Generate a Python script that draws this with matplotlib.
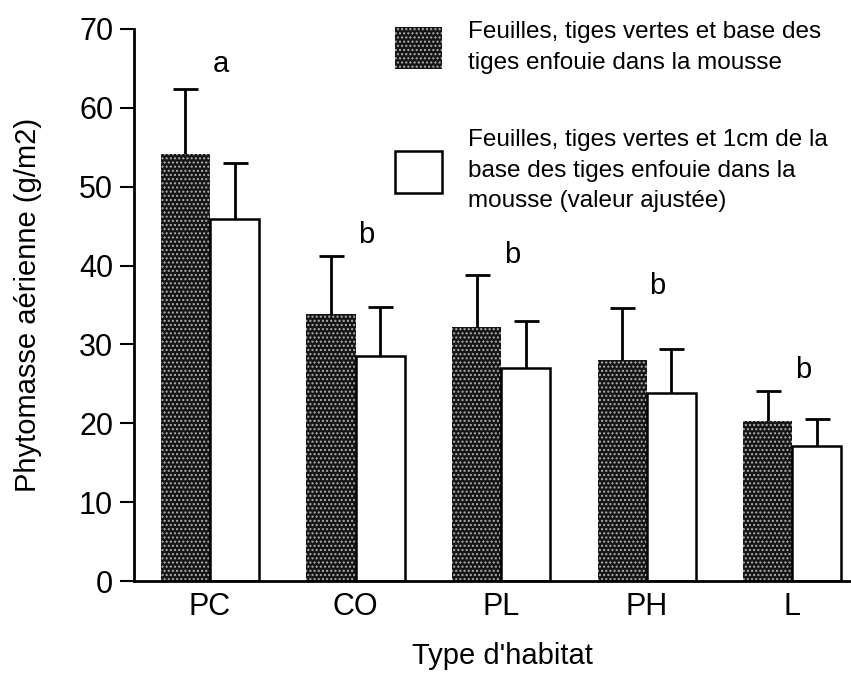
import matplotlib.pyplot as plt
import numpy as np

plt.rcParams['font.family'] = ['Liberation Sans', 'DejaVu Sans']

# Data
habitats = ["PC", "CO", "PL", "PH", "L"]
base_enfouie = [54.2, 33.8, 32.2, 28.0, 20.3]
base_enfouie_err = [8.2, 7.4, 6.6, 6.6, 3.8]
ajustee = [45.9, 28.5, 27.0, 23.8, 17.1]
ajustee_err = [7.1, 6.2, 6.0, 5.6, 3.4]
lettres = ["a", "b", "b", "b", "b"]
lettres_y = [64.5, 42.9, 40.3, 36.4, 25.7]

label_1 = "Feuilles, tiges vertes et base des\ntiges enfouie dans la mousse"
label_2 = ("Feuilles, tiges vertes et 1cm de la\n"
           "base des tiges enfouie dans la\nmousse (valeur ajustée)")

x = np.arange(len(habitats))
w = 0.337

fig = plt.figure(figsize=(8.51, 6.79), dpi=100)
ax = fig.add_axes([0.1575, 0.1443, 0.8425, 0.813])

ax.bar(x - w / 2, base_enfouie, w, facecolor='#151515', edgecolor='#b0b0b0',
       hatch='....', linewidth=0, label=label_1, zorder=2)
ax.bar(x + w / 2, ajustee, w, facecolor='white', edgecolor='black',
       linewidth=1.8, label=label_2, zorder=2)

for xs, vals, errs in [(x - w / 2, base_enfouie, base_enfouie_err),
                       (x + w / 2, ajustee, ajustee_err)]:
    eb = ax.errorbar(xs, vals, yerr=[np.zeros(len(errs)), errs], fmt='none',
                     ecolor='black', elinewidth=2, capsize=9, capthick=2, zorder=3)
    eb[1][0].set_visible(False)  # only the upper half of the bar

for xi, t, yt in zip(x, lettres, lettres_y):
    ax.text(xi + 0.076, yt, t, ha='center', va='baseline', fontsize=21)

ax.set_xlim(-0.522, 4.405)
ax.set_ylim(0, 70)
ax.set_yticks(range(0, 71, 10))
ax.set_xticks(x)
ax.set_xticklabels(habitats)
ax.tick_params(axis='y', length=10, width=1.5, pad=5, labelsize=22)
ax.tick_params(axis='x', length=0, pad=8, labelsize=22)
for s in ['top', 'right']:
    ax.spines[s].set_visible(False)
for s in ['left', 'bottom']:
    ax.spines[s].set_linewidth(2)

ax.set_ylabel("Phytomasse aérienne (g/m2)", fontsize=21)
ax.yaxis.set_label_coords(-0.128, 0.5)
fig.text(502 / 851, 1 - 664 / 679, "Type d'habitat", ha='center', va='baseline',
         fontsize=21)

leg = ax.legend(loc='upper left', bbox_to_anchor=(395 / 851, 1 - 21 / 679),
                bbox_transform=fig.transFigure, frameon=False, fontsize=17.5,
                handlelength=1.93, handleheight=2.28, handletextpad=1.07,
                labelspacing=2.3, borderpad=0, borderaxespad=0)
for t in leg.get_texts():
    t.set_linespacing(1.5)

fig.savefig("out.png", dpi=100)
